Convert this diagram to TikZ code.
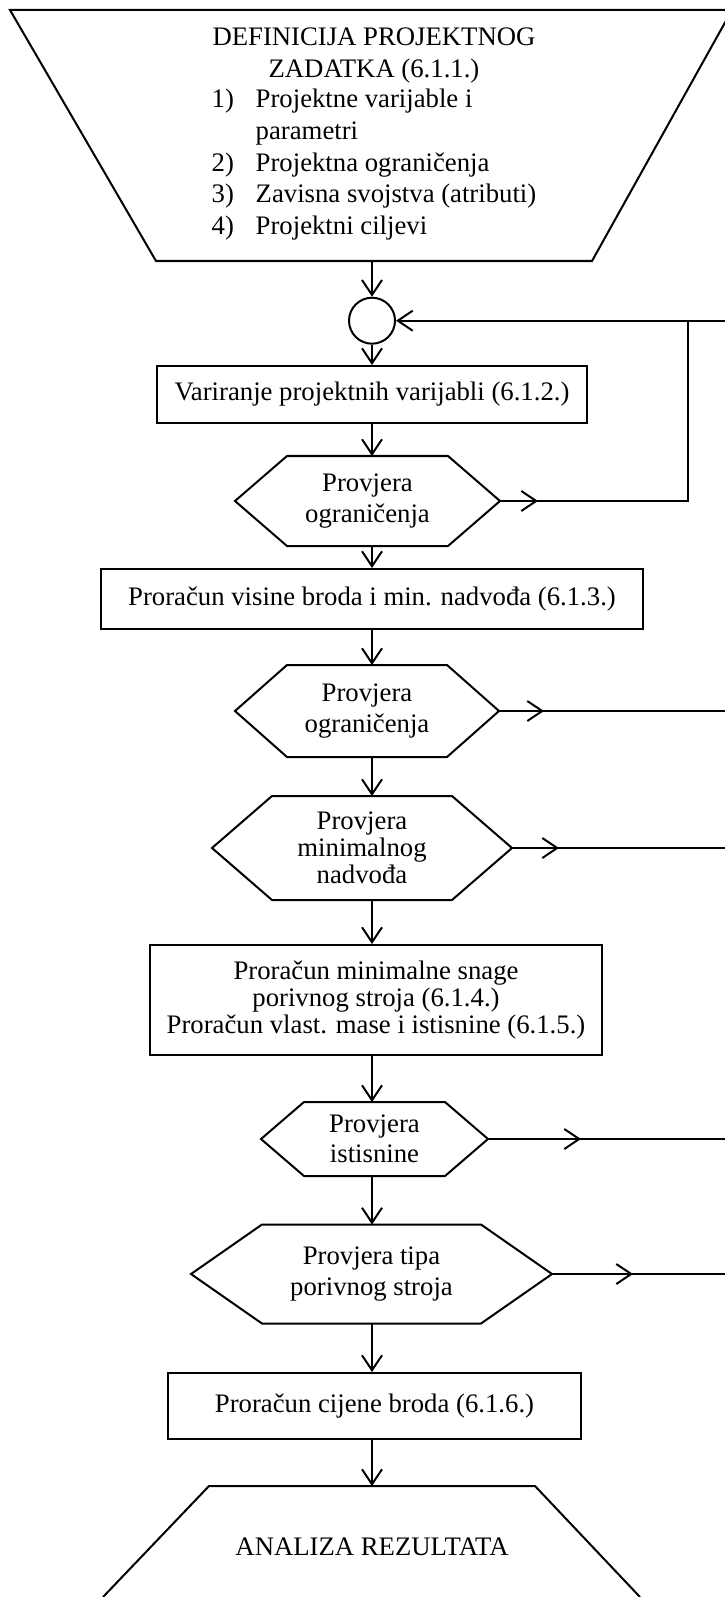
\documentclass[tikz,border=0pt]{standalone}
\usepackage{fontspec}
\setmainfont{Liberation Serif}
\usetikzlibrary{arrows.meta}
\newdimen\pxu
\pxu=0.449pt
\begin{document}
\begin{tikzpicture}[x=0.449pt, y=-0.449pt, line width=0.9pt,
    strelica/.style={-{Straight Barb[length=6.7pt,width=9pt]}},
    blok/.style={draw, rectangle, align=center, inner sep=0pt, font=\fontsize{12}{13.5}\selectfont},
    odluka/.style={rectangle, align=center, inner sep=0pt, font=\fontsize{12}{13.5}\selectfont}]
  \useasboundingbox (0,0) rectangle (725,1597);
  \coordinate (rub) at (725,0);
  \coordinate (kut) at (688,320.7);

  \node[blok, draw=none, minimum width=434\pxu, minimum height=248\pxu,
    font=\fontsize{12}{14.3}\selectfont] (zadatak) at (374,136)
    {DEFINICIJA PROJEKTNOG\\ ZADATKA (6.1.1.)\\
     \begin{tabular}{@{}p{44\pxu}@{}l@{}}
       1) & Projektne varijable i\\
          & parametri\\
       2) & Projektna ograničenja\\
       3) & Zavisna svojstva (atributi)\\
       4) & Projektni ciljevi
     \end{tabular}};
  \node[draw, circle, minimum size=46\pxu, inner sep=0pt] (krug) at (372,320.7) {};
  \node[blok, minimum width=430\pxu, minimum height=57\pxu] (var) at (372,394.5)
    {Variranje projektnih varijabli (6.1.2.)};
  \node[odluka, minimum width=263\pxu, minimum height=88\pxu] (prov1) at (367.5,501)
    {Provjera\\ograničenja};
  \node[blok, minimum width=542\pxu, minimum height=60\pxu] (visina) at (372,599)
    {Proračun visine broda i min. nadvođa (6.1.3.)};
  \node[odluka, minimum width=262\pxu, minimum height=90\pxu] (prov2) at (367,711)
    {Provjera\\ograničenja};
  \node[odluka, minimum width=298\pxu, minimum height=102\pxu,
    font=\fontsize{12}{12.2}\selectfont] (prov3) at (362,848)
    {Provjera\\minimalnog\\nadvođa};
  \node[blok, minimum width=452\pxu, minimum height=110\pxu,
    font=\fontsize{12}{12}\selectfont] (snaga) at (376,1000)
    {Proračun minimalne snage\\porivnog stroja (6.1.4.)\\Proračun vlast. mase i istisnine (6.1.5.)};
  \node[odluka, minimum width=225\pxu, minimum height=72\pxu] (prov4) at (374.5,1139)
    {Provjera\\istisnine};
  \node[odluka, minimum width=359\pxu, minimum height=97\pxu] (prov5) at (371.5,1274)
    {Provjera tipa\\porivnog stroja};
  \node[blok, minimum width=413\pxu, minimum height=66\pxu] (cijena) at (374.5,1406)
    {Proračun cijene broda (6.1.6.)};
  \node[blok, draw=none, minimum width=324\pxu, minimum height=120\pxu] (analiza) at (372,1547)
    {ANALIZA REZULTATA};

  % trapezi
  \draw (732,10) -- (zadatak.south east) -- (zadatak.south west) -- (10,10) -- cycle;
  \draw (103,1597) -- (analiza.north west) -- (analiza.north east) -- (640,1597);

  % sesterokuti
  \draw (prov1.west) -- ([xshift=52\pxu]prov1.north west) -- ([xshift=-52\pxu]prov1.north east)
    -- (prov1.east) -- ([xshift=-52\pxu]prov1.south east) -- ([xshift=52\pxu]prov1.south west) -- cycle;
  \draw (prov2.west) -- ([xshift=52\pxu]prov2.north west) -- ([xshift=-52\pxu]prov2.north east)
    -- (prov2.east) -- ([xshift=-52\pxu]prov2.south east) -- ([xshift=52\pxu]prov2.south west) -- cycle;
  \draw (prov3.west) -- ([xshift=60\pxu]prov3.north west) -- ([xshift=-60\pxu]prov3.north east)
    -- (prov3.east) -- ([xshift=-60\pxu]prov3.south east) -- ([xshift=60\pxu]prov3.south west) -- cycle;
  \draw (prov4.west) -- ([xshift=43\pxu]prov4.north west) -- ([xshift=-43\pxu]prov4.north east)
    -- (prov4.east) -- ([xshift=-43\pxu]prov4.south east) -- ([xshift=43\pxu]prov4.south west) -- cycle;
  \draw (prov5.west) -- ([xshift=71\pxu]prov5.north west) -- ([xshift=-71\pxu]prov5.north east)
    -- (prov5.east) -- ([xshift=-71\pxu]prov5.south east) -- ([xshift=71\pxu]prov5.south west) -- cycle;

  % glavni tok
  \draw[strelica] (zadatak.south -| krug) -- (krug.north);
  \draw[strelica] (krug.south) -- (var.north);
  \draw[strelica] (var.south) -- (prov1.north -| krug);
  \draw[strelica] (prov1.south -| krug) -- (visina.north);
  \draw[strelica] (visina.south) -- (prov2.north -| krug);
  \draw[strelica] (prov2.south -| krug) -- (prov3.north -| krug);
  \draw[strelica] (prov3.south -| krug) -- (snaga.north -| krug);
  \draw[strelica] (snaga.south -| krug) -- (prov4.north -| krug);
  \draw[strelica] (prov4.south -| krug) -- (prov5.north -| krug);
  \draw[strelica] (prov5.south -| krug) -- (cijena.north -| krug);
  \draw[strelica] (cijena.south -| krug) -- (analiza.north -| krug);

  % povratne veze
  \draw (prov1.east) -- (prov1.east -| kut) -- (kut);
  \draw[strelica] (prov1.east) -- ++(38,0);
  \draw[strelica] (kut) -- (krug.east);
  \draw (kut) -- (kut -| rub);
  \draw (prov2.east) -- (prov2.east -| rub);
  \draw[strelica] (prov2.east) -- ++(45,0);
  \draw (prov3.east) -- (prov3.east -| rub);
  \draw[strelica] (prov3.east) -- ++(47,0);
  \draw (prov4.east) -- (prov4.east -| rub);
  \draw[strelica] (prov4.east) -- ++(93,0);
  \draw (prov5.east) -- (prov5.east -| rub);
  \draw[strelica] (prov5.east) -- ++(81,0);
\end{tikzpicture}
\end{document}
